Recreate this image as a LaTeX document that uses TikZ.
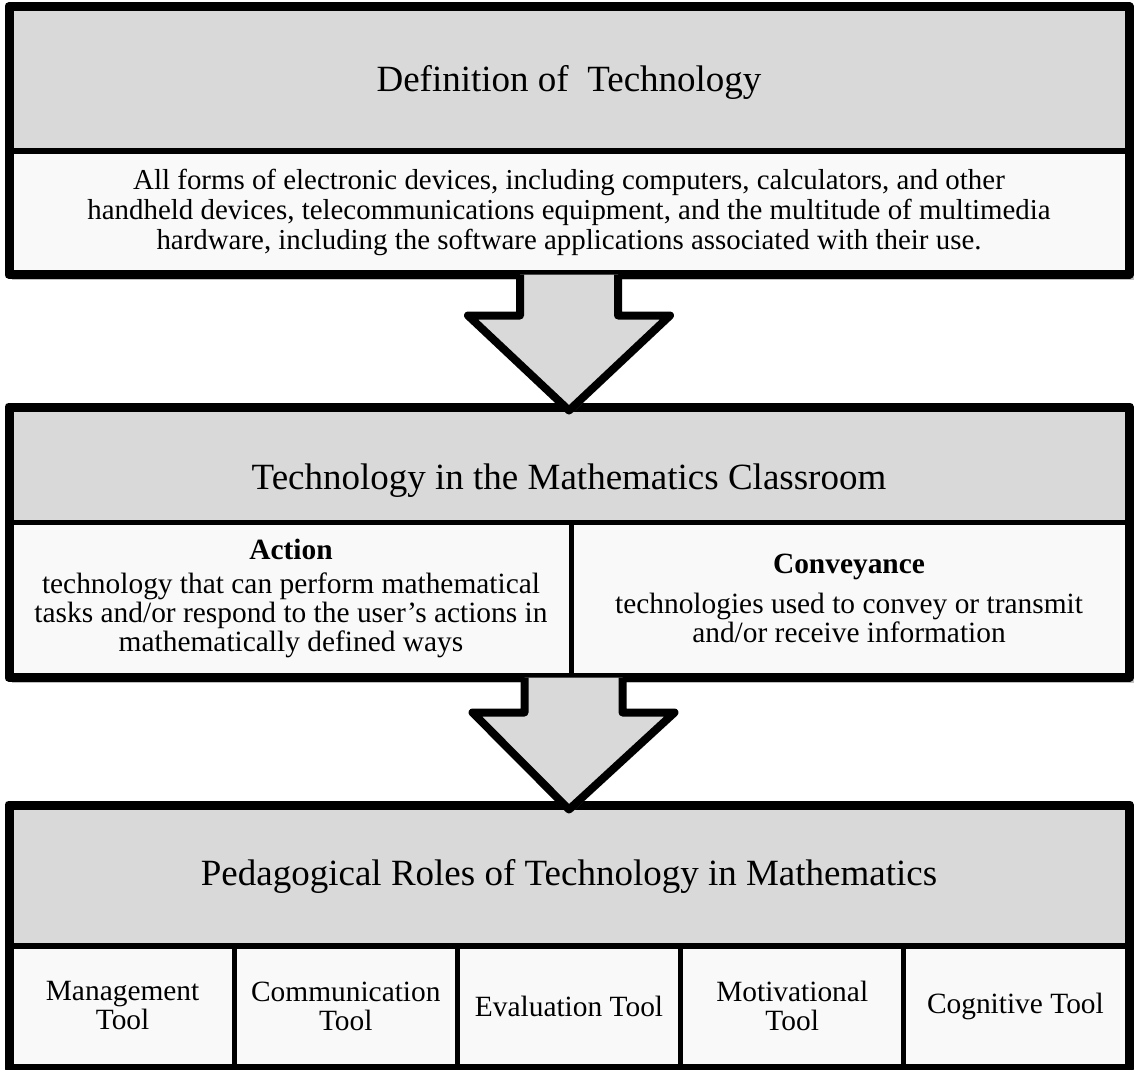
\documentclass[tikz,border=0pt]{standalone}
\usepackage{fontspec}
\setmainfont{Liberation Serif}
\usepackage{tikz}
\usetikzlibrary{calc,shadows,backgrounds}
\definecolor{headgray}{RGB}{217,217,217}
\definecolor{cellwhite}{RGB}{249,249,249}

\begin{document}
\begin{tikzpicture}[x=0.5pt,y=-0.5pt]
	\useasboundingbox (0,0) rectangle (1136,1070);

	\begin{scope}[every node/.style={draw=black,line width=2.5pt,inner sep=0pt,align=center,
	              font=\fontsize{14.7}{14.5}\selectfont}]
	    % definition box
	    \node (defhead) [fill=headgray,minimum width=558pt,minimum height=71pt,
	                     text height=13pt,text depth=4pt,
	                     font=\fontsize{18.5}{22}\selectfont] at (569,80)
	        {\raisebox{-1.5pt}{Definition of\ \ Technology}};
	    \node (defbody) [fill=cellwhite,minimum width=558pt,minimum height=60pt,
	                     font=\fontsize{14.45}{15}\selectfont] at (569,212)
	        {All forms of electronic devices, including computers, calculators, and other\\
	         handheld devices, telecommunications equipment, and the multitude of multimedia\\
	         hardware, including the software applications associated with their use.};

	    % classroom box
	    \node (mathhead) [fill=headgray,minimum width=558pt,minimum height=56.5pt,
	                      text height=13pt,text depth=4pt,
	                      font=\fontsize{18.5}{22}\selectfont] at (569,465.5)
	        {\raisebox{-7.5pt}{Technology in the Mathematics Classroom}};
	    \node (action) [fill=cellwhite,minimum width=280pt,minimum height=76.5pt] at (291,598.5)
	        {\textbf{Action}\\[2.5pt]
	         technology that can perform mathematical\\
	         tasks and/or respond to the user's actions in\\
	         mathematically defined ways};
	    \node (convey) [fill=cellwhite,minimum width=278pt,minimum height=76.5pt] at (849,598.5)
	        {\textbf{Conveyance}\\[5.5pt]
	         technologies used to convey or transmit\\
	         and/or receive information};

	    % pedagogical box
	    \node (pedhead) [fill=headgray,minimum width=558pt,minimum height=69pt,
	                     font=\fontsize{18.5}{22}\selectfont] at (569,876)
	        {Pedagogical Roles of Technology in Mathematics};
	    \foreach \name/\txt [count=\i from 0] in {manage/Management\\Tool,
	                                           commun/Communication\\Tool,
	                                           evaluate/Evaluation Tool,
	                                           motive/Motivational\\Tool,
	                                           cognit/Cognitive Tool}
	        \node (\name) [fill=cellwhite,minimum width=111.6pt,minimum height=60pt]
	            at ({122.6+223.2*\i},1006) {\txt};
	\end{scope}

	% outer frames with their shadows
	\begin{scope}[frame/.style={draw=black,line width=4pt,line join=round}]
	    \draw[frame] (defhead.north west) rectangle (defbody.south east);
	    \draw[frame] (mathhead.north west) rectangle (convey.south east);
	    \draw[frame] (pedhead.north west) rectangle (cognit.south east);
	\end{scope}
	\begin{scope}[on background layer]
	    \fill[black,opacity=0.25] ($(defhead.north west)+(3,3)$) rectangle ($(defbody.south east)+(4,5)$);
	    \fill[black,opacity=0.25] ($(mathhead.north west)+(3,3)$) rectangle ($(convey.south east)+(4,5)$);
	    \fill[black,opacity=0.25] ($(pedhead.north west)+(3,3)$) rectangle ($(cognit.south east)+(4,5)$);
	\end{scope}

	% block arrows between the boxes
	\begin{scope}[bigarrow/.style={draw=black,fill=headgray,line width=4pt,line join=round,
	              drop shadow={shadow xshift=1.5pt,shadow yshift=-1.5pt,opacity=0.25}}]
	    \coordinate (tip1) at ($(mathhead.north)+(0,4)$);
	    \coordinate (tip2) at ($(pedhead.north)+(0,5)$);
	    \path[bigarrow] ($(defbody.south)+(-49,0)$) |- ++(-52,41) -- (tip1)
	        -- ($(defbody.south)+(101,41)$) -| ($(defbody.south)+(49,0)$);
	    \path[bigarrow] ($(action.south east)+(-49,0)$) |- ++(-52,35) -- (tip2)
	        -- ($(action.south east)+(101,35)$) -| ($(action.south east)+(49,0)$);
	\end{scope}
\end{tikzpicture}
\end{document}
